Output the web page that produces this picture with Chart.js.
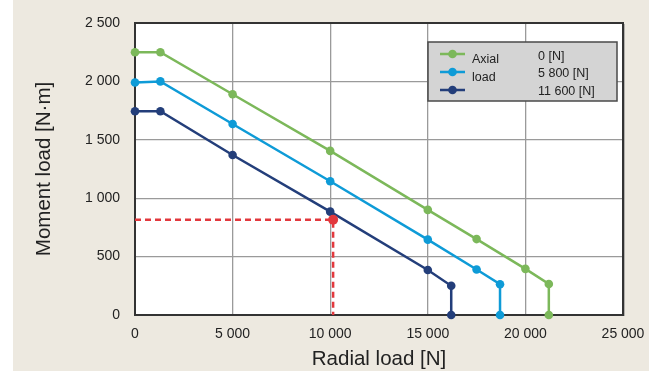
<!DOCTYPE html>
<html>
<head>
<meta charset="utf-8">
<script src="https://cdn.jsdelivr.net/npm/chart.js@4/dist/chart.umd.min.js"></script>
<style>
  html, body { margin: 0; padding: 0; background: #ffffff; }
  #wrap { position: relative; width: 649px; height: 371px; }
  canvas { display: block; }
</style>
</head>
<body>
<div id="wrap"><canvas id="c" width="649" height="371"></canvas></div>
<script>
// ---- data ----
const seriesNames = ['0 [N]', '5 800 [N]', '11 600 [N]'];
const axialLabel = ['Axial', 'load'];

const radial0 = [0, 1300, 5000, 10000, 15000, 17500, 20000, 21200, 21200];
const moment0 = [2250, 2250, 1890, 1405, 900, 650, 395, 265, 0];

const radial5800 = [0, 1300, 5000, 10000, 15000, 17500, 18700, 18700];
const moment5800 = [1990, 2000, 1635, 1145, 645, 390, 263, 0];

const radial11600 = [0, 1300, 5000, 10000, 15000, 16200, 16200];
const moment11600 = [1745, 1745, 1370, 885, 385, 250, 0];

const exampleRadial = [0, 10150, 10150];
const exampleMoment = [815, 815, 0];

const xTicks = [0, 5000, 10000, 15000, 20000, 25000];
const xTickLabels = ['0', '5 000', '10 000', '15 000', '20 000', '25 000'];
const yTicks = [0, 500, 1000, 1500, 2000, 2500];
const yTickLabels = ['0', '500', '1 000', '1 500', '2 000', '2 500'];

const xTitle = 'Radial load [N]';
const yTitle = 'Moment load [N\u00B7m]';

// ---- styles ----
const colors = ['#7cb85a', '#0e9bd7', '#233e7a'];
const redColor = '#e2383d';
const FONT = '"Liberation Sans", Arial, Helvetica, sans-serif';

function pts(xs, ys) { return xs.map((x, i) => ({ x: x, y: ys[i] })); }

const bgPlugin = {
  id: 'bg',
  beforeDraw(chart) {
    const ctx = chart.ctx, a = chart.chartArea;
    ctx.save();
    ctx.fillStyle = '#ffffff';
    ctx.fillRect(0, 0, chart.width, chart.height);
    ctx.fillStyle = '#ede9e0';
    ctx.fillRect(13, 0, chart.width - 13, chart.height);
    ctx.fillStyle = '#ffffff';
    ctx.fillRect(a.left, a.top, a.right - a.left, a.bottom - a.top);
    ctx.restore();
  },
  beforeDatasetsDraw(chart) {
    const ctx = chart.ctx, a = chart.chartArea;
    ctx.save();
    // frame
    ctx.strokeStyle = '#333333';
    ctx.lineWidth = 2;
    ctx.strokeRect(a.left, a.top, a.right - a.left, a.bottom - a.top);
    ctx.strokeStyle = 'rgba(120,120,120,0.5)';
    ctx.lineWidth = 1;
    ctx.beginPath();
    ctx.moveTo(a.right + 1.5, a.top + 1); ctx.lineTo(a.right + 1.5, a.bottom + 1);
    ctx.stroke();
    ctx.restore();
  },
  afterDatasetsDraw(chart) {
    const ctx = chart.ctx;
    ctx.save();
    // legend box
    const lx = 428, ly = 42, lw = 189, lh = 59;
    ctx.fillStyle = '#d4d4d4';
    ctx.fillRect(lx, ly, lw, lh);
    ctx.strokeStyle = '#4a4a4a';
    ctx.lineWidth = 1.5;
    ctx.strokeRect(lx, ly, lw, lh);
    const rowsY = [54, 72, 90];
    rowsY.forEach((y, i) => {
      ctx.strokeStyle = colors[i];
      ctx.lineWidth = 2.5;
      ctx.beginPath();
      ctx.moveTo(440, y); ctx.lineTo(465, y); ctx.stroke();
      ctx.fillStyle = colors[i];
      ctx.beginPath();
      ctx.arc(452.5, y, 4.3, 0, Math.PI * 2); ctx.fill();
    });
    ctx.fillStyle = '#222222';
    ctx.font = '12.5px ' + FONT;
    ctx.textAlign = 'left';
    ctx.textBaseline = 'alphabetic';
    ctx.fillText(axialLabel[0], 472, 63);
    ctx.fillText(axialLabel[1], 472, 81);
    const valY = [59.5, 77.2, 94.8];
    seriesNames.forEach((s, i) => ctx.fillText(s, 538, valY[i]));
    ctx.restore();
  }
};

const lineDs = (label, xs, ys, color) => ({
  label: label,
  data: pts(xs, ys),
  borderColor: color,
  backgroundColor: color,
  borderWidth: 2.5,
  pointRadius: 4.3,
  pointHoverRadius: 4.3,
  pointBorderWidth: 0,
  showLine: true,
  tension: 0,
  clip: false
});

new Chart(document.getElementById('c'), {
  type: 'scatter',
  data: {
    datasets: [
      {
        label: 'example',
        data: pts(exampleRadial, exampleMoment),
        borderColor: redColor,
        backgroundColor: redColor,
        borderWidth: 2.5,
        borderDash: [6, 4],
        pointRadius: [0, 5, 0],
        pointBorderWidth: 0,
        showLine: true,
        clip: false,
        order: 0
      },
      Object.assign(lineDs(seriesNames[2], radial11600, moment11600, colors[2]), { order: 1 }),
      Object.assign(lineDs(seriesNames[1], radial5800, moment5800, colors[1]), { order: 2 }),
      Object.assign(lineDs(seriesNames[0], radial0, moment0, colors[0]), { order: 3 })
    ]
  },
  options: {
    responsive: false,
    animation: false,
    devicePixelRatio: 1,
    layout: { padding: { left: 0, top: 23, right: 26, bottom: 0 } },
    plugins: { legend: { display: false }, tooltip: { enabled: false } },
    scales: {
      x: {
        type: 'linear',
        min: 0, max: 25000,
        afterFit(s) { s.height = 56; s.paddingLeft = 0; s.paddingRight = 0; },
        afterBuildTicks(s) { s.ticks = xTicks.map(v => ({ value: v })); },
        ticks: {
          callback: (v) => xTickLabels[xTicks.indexOf(v)],
          color: '#222222',
          font: { family: FONT, size: 14 },
          padding: 11,
          maxRotation: 0
        },
        grid: { color: '#9a9a9a', lineWidth: 1.3, drawTicks: false },
        border: { display: false },
        title: {
          display: true, text: xTitle, color: '#222222',
          font: { family: FONT, size: 20.5, lineHeight: 1 },
          padding: { top: 0, bottom: 1 }
        }
      },
      y: {
        type: 'linear',
        min: 0, max: 2500,
        afterFit(s) { s.width = 135; s.paddingTop = 0; s.paddingBottom = 0; },
        afterBuildTicks(s) { s.ticks = yTicks.map(v => ({ value: v })); },
        ticks: {
          callback: (v) => yTickLabels[yTicks.indexOf(v)],
          color: '#222222',
          font: { family: FONT, size: 14 },
          padding: 15
        },
        grid: { color: '#9a9a9a', lineWidth: 1.3, drawTicks: false },
        border: { display: false },
        title: {
          display: true, text: yTitle, color: '#222222',
          font: { family: FONT, size: 20.5, lineHeight: 1 },
          padding: { top: 34, bottom: 0 }
        }
      }
    }
  },
  plugins: [bgPlugin]
});
</script>
</body>
</html>
